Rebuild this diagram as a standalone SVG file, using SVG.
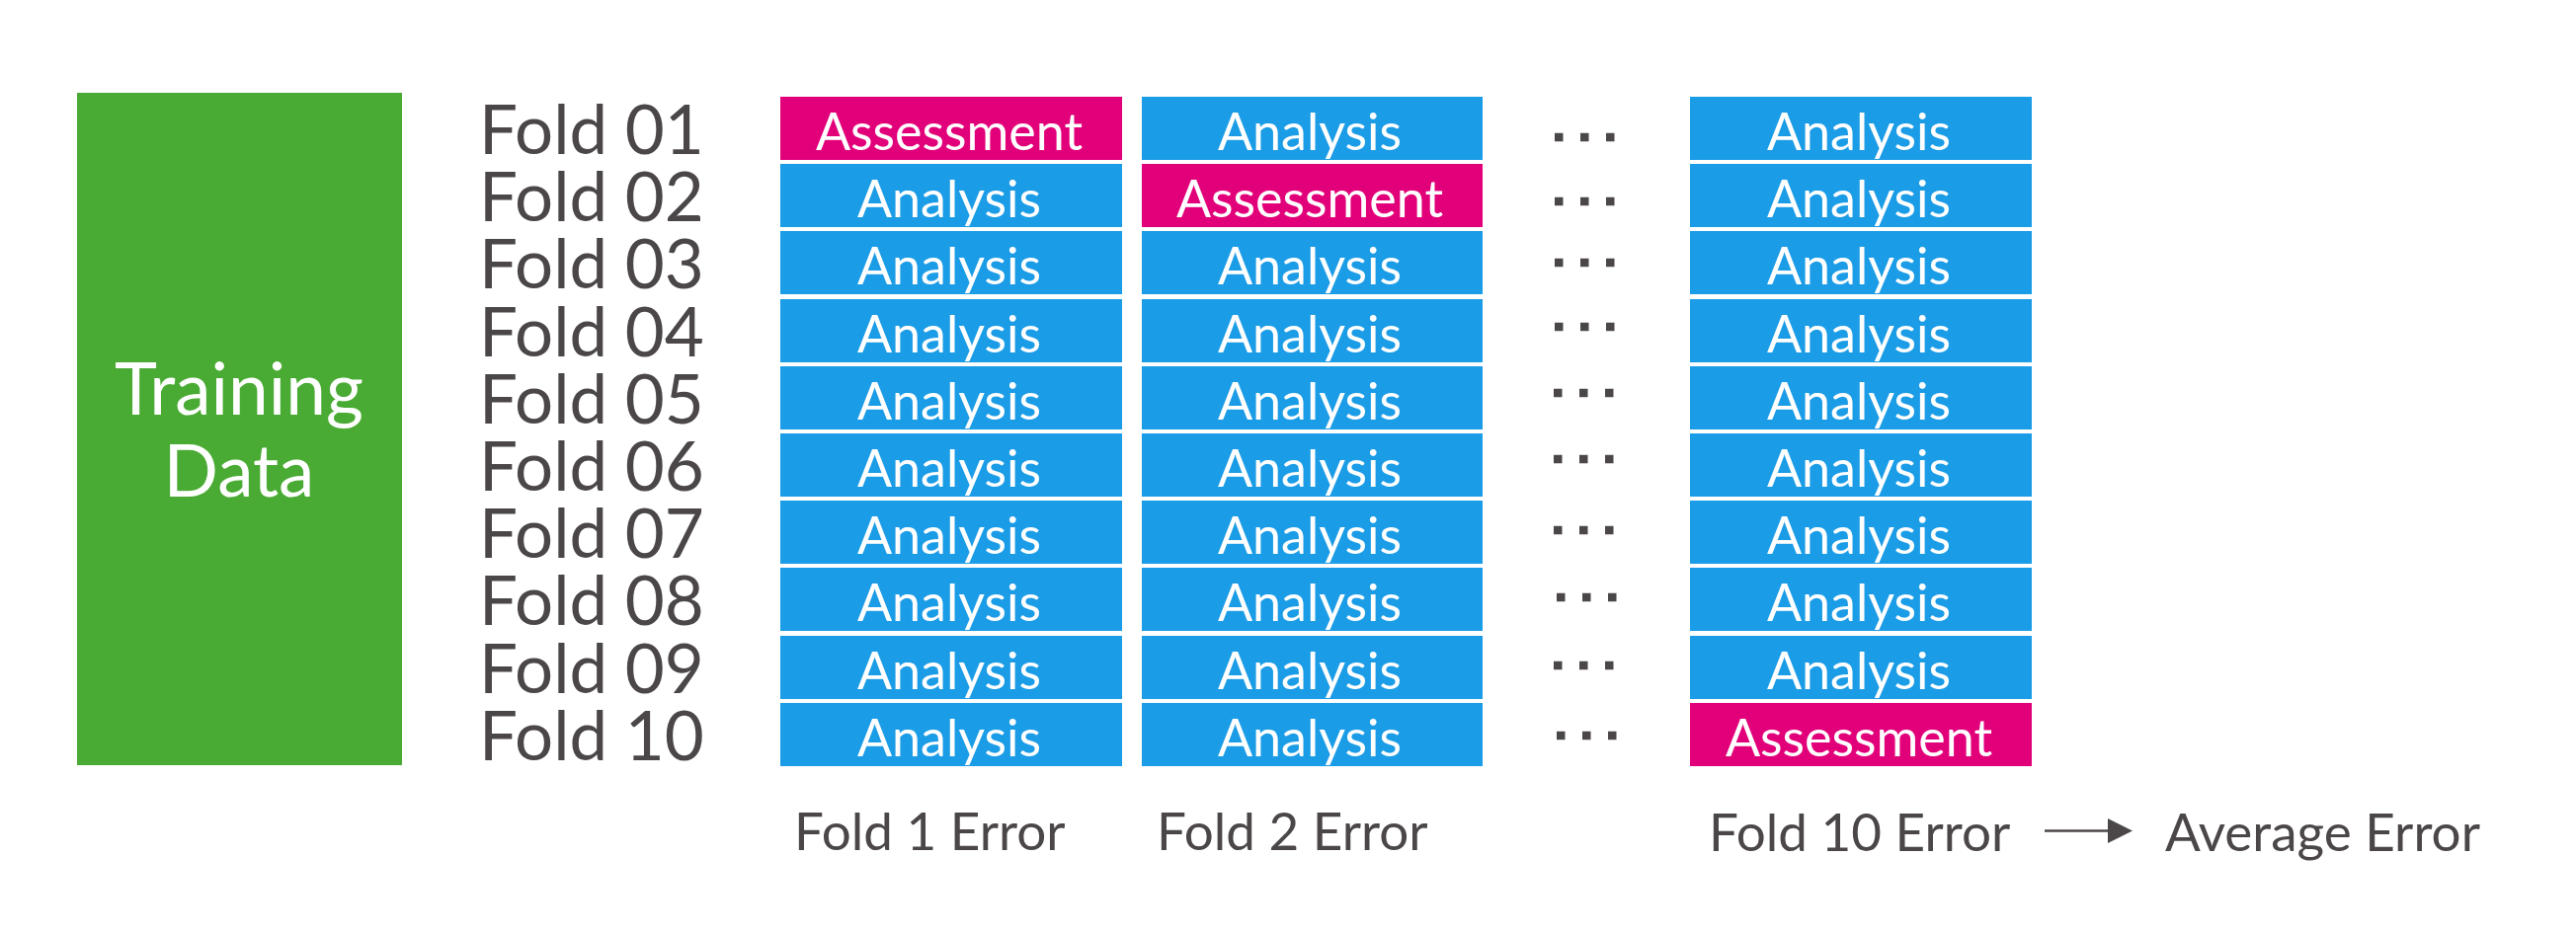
<svg xmlns="http://www.w3.org/2000/svg" width="2608" height="946" viewBox="0 0 2608 946">
<style>
text{font-family:Lato,"Open Sans","Liberation Sans",sans-serif}
.an{fill:#1b9ce6}
.as{fill:#e2007a}
.bt{fill:#ffffff;font-size:52px;text-anchor:middle}
.fl{fill:#4b4748;font-size:69px}
.er{fill:#4b4748;font-size:53px}
.dot{fill:#4b4748}
</style>
<defs>
<marker id="ah" viewBox="0 0 10 10" refX="0" refY="5" markerWidth="10" markerHeight="10" markerUnits="strokeWidth" orient="auto">
<path d="M0,0 L10,5 L0,10 Z" fill="#4b4748"/>
</marker>
<g id="dots"><rect x="0" y="-4.25" width="8.5" height="8.5"/><rect x="26" y="-4.25" width="8.5" height="8.5"/><rect x="52" y="-4.25" width="8.5" height="8.5"/></g>
</defs>
<rect width="2608" height="946" fill="#ffffff"/>
<g id="training">
<rect x="78" y="94" width="329" height="681" fill="#49ab33"/>
<text x="242" y="420" fill="#ffffff" font-size="73" text-anchor="middle">Training</text>
<text x="242" y="503" fill="#ffffff" font-size="73" text-anchor="middle">Data</text>
</g>
<g id="fold-labels">
<text class="fl" x="485" y="156">Fold 01</text>
<text class="fl" x="485" y="224">Fold 02</text>
<text class="fl" x="485" y="292">Fold 03</text>
<text class="fl" x="485" y="361">Fold 04</text>
<text class="fl" x="485" y="429">Fold 05</text>
<text class="fl" x="485" y="497">Fold 06</text>
<text class="fl" x="485" y="565">Fold 07</text>
<text class="fl" x="485" y="633">Fold 08</text>
<text class="fl" x="485" y="702">Fold 09</text>
<text class="fl" x="485" y="770">Fold 10</text>
</g>
<g id="col1">
<rect class="as" x="790" y="98" width="346" height="64"/><text class="bt" x="961" y="152">Assessment</text>
<rect class="an" x="790" y="166" width="346" height="64"/><text class="bt" x="961" y="220">Analysis</text>
<rect class="an" x="790" y="234" width="346" height="64"/><text class="bt" x="961" y="288">Analysis</text>
<rect class="an" x="790" y="303" width="346" height="64"/><text class="bt" x="961" y="357">Analysis</text>
<rect class="an" x="790" y="371" width="346" height="64"/><text class="bt" x="961" y="425">Analysis</text>
<rect class="an" x="790" y="439" width="346" height="64"/><text class="bt" x="961" y="493">Analysis</text>
<rect class="an" x="790" y="507" width="346" height="64"/><text class="bt" x="961" y="561">Analysis</text>
<rect class="an" x="790" y="575" width="346" height="64"/><text class="bt" x="961" y="629">Analysis</text>
<rect class="an" x="790" y="644" width="346" height="64"/><text class="bt" x="961" y="698">Analysis</text>
<rect class="an" x="790" y="712" width="346" height="64"/><text class="bt" x="961" y="766">Analysis</text>
</g>
<g id="col2">
<rect class="an" x="1156" y="98" width="345" height="64"/><text class="bt" x="1326" y="152">Analysis</text>
<rect class="as" x="1156" y="166" width="345" height="64"/><text class="bt" x="1326" y="220">Assessment</text>
<rect class="an" x="1156" y="234" width="345" height="64"/><text class="bt" x="1326" y="288">Analysis</text>
<rect class="an" x="1156" y="303" width="345" height="64"/><text class="bt" x="1326" y="357">Analysis</text>
<rect class="an" x="1156" y="371" width="345" height="64"/><text class="bt" x="1326" y="425">Analysis</text>
<rect class="an" x="1156" y="439" width="345" height="64"/><text class="bt" x="1326" y="493">Analysis</text>
<rect class="an" x="1156" y="507" width="345" height="64"/><text class="bt" x="1326" y="561">Analysis</text>
<rect class="an" x="1156" y="575" width="345" height="64"/><text class="bt" x="1326" y="629">Analysis</text>
<rect class="an" x="1156" y="644" width="345" height="64"/><text class="bt" x="1326" y="698">Analysis</text>
<rect class="an" x="1156" y="712" width="345" height="64"/><text class="bt" x="1326" y="766">Analysis</text>
</g>
<g id="ellipsis" class="dot">
<use href="#dots" x="1574" y="139"/>
<use href="#dots" x="1574" y="204"/>
<use href="#dots" x="1574" y="266"/>
<use href="#dots" x="1574" y="331"/>
<use href="#dots" x="1573" y="398"/>
<use href="#dots" x="1573" y="465"/>
<use href="#dots" x="1573" y="537"/>
<use href="#dots" x="1576" y="605"/>
<use href="#dots" x="1573" y="674"/>
<use href="#dots" x="1576" y="745"/>
</g>
<g id="col3">
<rect class="an" x="1711" y="98" width="346" height="64"/><text class="bt" x="1882" y="152">Analysis</text>
<rect class="an" x="1711" y="166" width="346" height="64"/><text class="bt" x="1882" y="220">Analysis</text>
<rect class="an" x="1711" y="234" width="346" height="64"/><text class="bt" x="1882" y="288">Analysis</text>
<rect class="an" x="1711" y="303" width="346" height="64"/><text class="bt" x="1882" y="357">Analysis</text>
<rect class="an" x="1711" y="371" width="346" height="64"/><text class="bt" x="1882" y="425">Analysis</text>
<rect class="an" x="1711" y="439" width="346" height="64"/><text class="bt" x="1882" y="493">Analysis</text>
<rect class="an" x="1711" y="507" width="346" height="64"/><text class="bt" x="1882" y="561">Analysis</text>
<rect class="an" x="1711" y="575" width="346" height="64"/><text class="bt" x="1882" y="629">Analysis</text>
<rect class="an" x="1711" y="644" width="346" height="64"/><text class="bt" x="1882" y="698">Analysis</text>
<rect class="as" x="1711" y="712" width="346" height="64"/><text class="bt" x="1882" y="766">Assessment</text>
</g>
<g id="errors">
<text class="er" x="804" y="861">Fold 1 Error</text>
<text class="er" x="1171" y="861">Fold 2 Error</text>
<text class="er" x="1730" y="862">Fold 10 Error</text>
</g>
<g id="average">
<text class="er" x="2192" y="862">Average Error</text>
</g>
<g id="connectors">
<line x1="2070" y1="841.5" x2="2134" y2="841.5" stroke="#4b4748" stroke-width="2.5" marker-end="url(#ah)"/>
</g>
</svg>
